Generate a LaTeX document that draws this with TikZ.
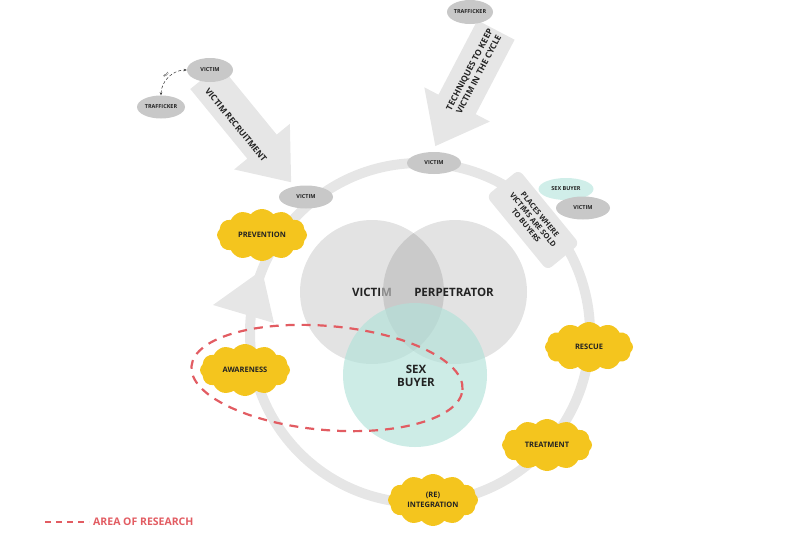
\documentclass[tikz,border=0pt]{standalone}
\usepackage{fontspec}
\setmainfont{Open Sans}
\usetikzlibrary{shapes.symbols,shapes.geometric,arrows.meta,calc}
\definecolor{ringgray}{RGB}{230,230,230}
\definecolor{elgray}{RGB}{200,200,200}
\definecolor{cloudyellow}{RGB}{244,197,30}
\definecolor{tealc}{RGB}{178,226,217}
\definecolor{tealel}{RGB}{208,238,233}
\definecolor{redd}{RGB}{226,92,98}
\definecolor{txt}{RGB}{35,35,35}
\begin{document}
\begin{tikzpicture}[x=1pt,y=-1pt,
  smallel/.style={ellipse, fill=elgray, minimum width=54pt, minimum height=23pt, inner sep=0pt,
    font=\fontsize{5.5}{6.5}\selectfont\bfseries, text=txt},
  cloudn/.style={cloud, cloud puffs=12, cloud puff arc=100, fill=cloudyellow, minimum width=90pt,
    minimum height=52pt, inner sep=0pt, aspect=1.7, font=\fontsize{7.5}{9.5}\selectfont\bfseries,
    text=txt, align=center},
  venn/.style={circle, minimum size=144pt, inner sep=0pt},
  biglabel/.style={font=\fontsize{11.5}{13.5}\selectfont\bfseries, text=txt, align=center},
  arrowlabel/.style={font=\fontsize{8.5}{10.5}\selectfont\bfseries, text=txt, align=center},
  bigarrow/.style={fill=ringgray}
]
\useasboundingbox (0,0) rectangle (800,533);

% ring
\coordinate (ringc) at (420,333);
\draw[ringgray, line width=10pt] (ringc) circle[radius=170pt];
\fill[ringgray] (262,270) -- (213,305) -- (274,323) -- cycle;

% big arrows
\begin{scope}[shift={(205,77)}, rotate=-50.7]
  \fill[bigarrow] (0,-19) -- (90,-19) -- (90,-36) -- (136,0) -- (90,36) -- (90,19) -- (0,19) -- cycle;
\end{scope}
\begin{scope}[shift={(496,30)}, rotate=-117.6]
  \fill[bigarrow] (0,-21) -- (84,-21) -- (84,-37) -- (131,0) -- (84,37) -- (84,21) -- (0,21) -- cycle;
\end{scope}
\node[arrowlabel, rotate=-50.7] (reclab) at (236,125) {VICTIM RECRUITMENT};
\node[arrowlabel, rotate=62.4] (techlab) at (474,72) {TECHNIQUES TO KEEP\\VICTIM IN THE CYCLE};

% places box
\node[rotate=-50.7, rounded corners=6pt, fill=ringgray, minimum width=96pt, minimum height=42pt,
  inner sep=0pt, arrowlabel, font=\fontsize{7.5}{9}\selectfont\bfseries] (places) at (533,220) {PLACES WHERE\\VICTIMS ARE SOLD\\TO BUYERS};

% small ellipses
\node[smallel, minimum width=46pt, minimum height=24pt] (v1) at (210,70) {VICTIM};
\node[smallel, minimum width=48pt, minimum height=23pt] (t1) at (161,107) {TRAFFICKER};
\node[smallel, minimum width=46pt, minimum height=24pt] (t2) at (470,12) {TRAFFICKER};
\node[smallel] (v2) at (306,197) {VICTIM};
\node[smallel, minimum height=22pt] (v3) at (434,163) {VICTIM};
\node[smallel, fill=tealel, minimum width=55pt, minimum height=22pt] (sb) at (566,189) {SEX BUYER};
\node[smallel] (v4) at (583,208) {VICTIM};

\draw[densely dashed, line width=0.5pt, black!80, {Stealth[length=3pt,width=2.5pt]}-{Stealth[length=3pt,width=2.5pt]}]
  (t1.north) to[bend left=45] node[sloped, above=-1pt, font=\fontsize{2.5}{3}\selectfont\bfseries] (meet) {MEET} (v1.west);

% venn
\node[venn, fill=black, fill opacity=0.11] (vc) at (372,292) {};
\node[venn, fill=black, fill opacity=0.11] (pc) at (455,292) {};
\node[venn, fill=tealc, fill opacity=0.65] (sc) at (415,375) {};
\node[biglabel] (vt) at (372,292) {VICTI\textcolor{black!45}{M}};
\node[biglabel] (pt) at (454,292) {PERPETRATOR};
\node[biglabel] (st) at (416,376) {SEX\\BUYER};

% clouds
\node[cloudn] (prev) at (262,235) {PREVENTION};
\node[cloudn] (aware) at (245,370) {AWARENESS};
\node[cloudn, minimum width=88pt, minimum height=50pt] (resc) at (589,347) {RESCUE};
\node[cloudn] (treat) at (547,445) {TREATMENT};
\node[cloudn] (integ) at (433,500) {(RE)\\INTEGRATION};

% research ellipse
\node[ellipse, draw=redd, line width=2.2pt, dash pattern=on 9pt off 7pt, minimum width=272pt,
  minimum height=104pt, inner sep=0pt, rotate=-5] (research) at (327,378) {};

% legend
\coordinate (lg0) at (45,522);
\coordinate (lg1) at (89,522);
\draw[redd, line width=1.5pt, dash pattern=on 6pt off 5pt] (lg0) -- (lg1);
\node[anchor=west, text=redd, font=\fontsize{10.5}{12}\selectfont\bfseries, inner sep=0pt] (legt) at (93,522) {AREA OF RESEARCH};
\end{tikzpicture}
\end{document}
